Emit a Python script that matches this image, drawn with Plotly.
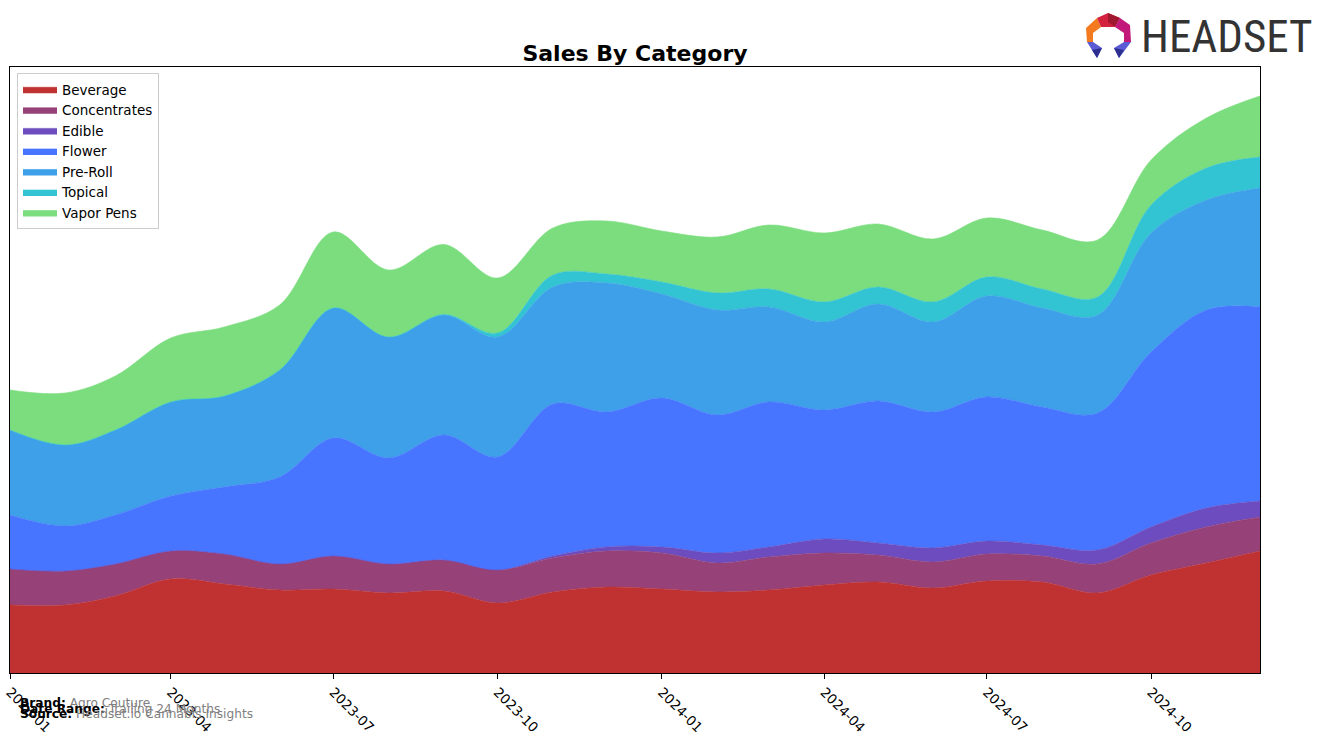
import plotly.graph_objects as go

months = ["2023-01-01", "2023-02-01", "2023-03-01", "2023-04-01", "2023-05-01", "2023-06-01",
          "2023-07-01", "2023-08-01", "2023-09-01", "2023-10-01", "2023-11-01", "2023-12-01",
          "2024-01-01", "2024-02-01", "2024-03-01", "2024-04-01", "2024-05-01", "2024-06-01",
          "2024-07-01", "2024-08-01", "2024-09-01", "2024-10-01", "2024-11-01", "2024-12-01"]

beverage = [68, 68, 77, 94, 89, 83, 84, 80, 82, 70, 81, 86,
            84, 81, 83, 88, 91, 85, 92, 91, 80, 98, 110, 122]
concentrates = [36, 34, 32, 28, 30, 26, 33, 29, 31, 33, 34, 36,
                36, 29, 33, 32, 27, 26, 27, 26, 29, 32, 36, 34]
edible = [0, 0, 0, 0, 0, 0, 0, 0, 0, 0, 2, 4,
          6, 10, 10, 14, 12, 14, 13, 11, 14, 16, 19, 16]
flower = [54, 45, 49, 55, 67, 87, 118, 106, 125, 113, 152, 135,
          149, 138, 145, 129, 142, 136, 144, 138, 137, 175, 198, 194]
preroll = [85, 81, 85, 94, 91, 107, 130, 121, 120, 120, 117, 129,
           104, 105, 95, 88, 97, 90, 101, 99, 98, 119, 110, 119]
topical = [0, 0, 0, 0, 0, 0, 0, 0, 0.5, 4, 12, 9,
           12, 17, 18, 20, 17, 20, 19, 19, 18, 28, 32, 31]
vapor = [40, 52, 54, 64, 69, 65, 76, 67, 70, 55, 47, 53,
         51, 56, 64, 69, 63, 63, 59, 59, 57, 45, 50, 61]

series = [
    ("Beverage", beverage, "#C03232"),
    ("Concentrates", concentrates, "#964178"),
    ("Edible", edible, "#6C4CBE"),
    ("Flower", flower, "#4775FF"),
    ("Pre-Roll", preroll, "#3EA0E8"),
    ("Topical", topical, "#32C4D2"),
    ("Vapor Pens", vapor, "#7BDD7E"),
]

fig = go.Figure()
for name, vals, col in series:
    fig.add_trace(go.Scatter(
        x=months, y=vals, name=name, mode="lines", stackgroup="one",
        line=dict(shape="spline", smoothing=1.0, width=0.6, color=col),
        fillcolor=col,
    ))

W, H = 1324, 743
L, R, T, B = 10, 1260, 67, 673

def px(x):
    return (x - L) / (R - L)

def py(y):
    return (B - y) / (B - T)

fig.update_layout(
    width=W, height=H,
    margin=dict(l=L, r=W - R, t=T, b=H - B, autoexpand=False),
    paper_bgcolor="white", plot_bgcolor="white",
    font=dict(family="DejaVu Sans", color="black", size=13),
    title=dict(text="<b>Sales By Category</b>", x=px(635), xref="paper", xanchor="center",
               y=1 - 53 / H, yanchor="middle", font=dict(size=22, family="DejaVu Sans")),
    showlegend=True,
    legend=dict(x=px(17), y=py(73), xanchor="left", yanchor="top",
                bgcolor="rgba(255,255,255,0.8)", bordercolor="#CCCCCC", borderwidth=1,
                font=dict(size=13.5, family="DejaVu Sans"), traceorder="normal",
                itemwidth=34, tracegroupgap=0),
    xaxis=dict(type="date", range=["2023-01-01", "2024-12-01"], automargin=False,
               tick0="2023-01-01", dtick="M3", tickformat="%Y-%m", tickangle=45,
               ticks="outside", ticklen=5, tickcolor="black", showgrid=False,
               showline=True, linecolor="black", linewidth=1, mirror=True,
               tickfont=dict(size=13.5, family="DejaVu Sans"), zeroline=False),
    yaxis=dict(range=[0, 606], showticklabels=False, ticks="", showgrid=False, automargin=False,
               showline=True, linecolor="black", linewidth=1, mirror=True, zeroline=False),
)

# footer annotations
foot = [
    (703, "<b>Brand:</b> <span style='color:#808080'>Agro Couture</span>"),
    (709, "<b>Date Range:</b> <span style='color:#808080'>Trailing 24 Months</span>"),
    (714, "<b>Source:</b> <span style='color:#808080'>Headset.io Cannabis Insights</span>"),
]
for yy, txt in foot:
    fig.add_annotation(text=txt, x=px(18), y=py(yy), xref="paper", yref="paper",
                       xanchor="left", yanchor="middle", showarrow=False,
                       font=dict(size=12.2, family="DejaVu Sans", color="black"))

# logo text
fig.add_annotation(text="HEADSET", x=px(1139), y=py(37), xref="paper", yref="paper",
                   xanchor="left", yanchor="middle", showarrow=False,
                   font=dict(size=45, family="Liberation Sans Narrow, Roboto Condensed, Liberation Sans",
                             color="#333333"))

def poly(points, color):
    d = "M " + " L ".join(f"{px(x)},{py(y)}" for x, y in points) + " Z"
    fig.add_shape(type="path", path=d, xref="paper", yref="paper",
                  fillcolor=color, line=dict(width=0), layer="above")

poly([(1086, 28), (1097, 18), (1101, 27), (1093, 33), (1093, 42), (1087, 42)], "#F47A20")
poly([(1097, 18), (1108, 13), (1120, 18), (1115, 27), (1101, 27)], "#D4213D")
poly([(1108, 13), (1120, 18), (1115, 27), (1108, 22)], "#A01830")
poly([(1120, 18), (1130, 25), (1131, 42), (1124, 42), (1124, 33), (1115, 27)], "#C2187A")
poly([(1087, 42), (1093, 42), (1102, 48), (1097, 58)], "#5B5BD6")
poly([(1092, 50), (1102, 48), (1097, 58)], "#2D2F8F")
poly([(1124, 42), (1131, 42), (1119, 58), (1114, 48)], "#5B5BD6")
poly([(1124, 50), (1114, 48), (1119, 58)], "#2D2F8F")

fig.write_html("out.html")
